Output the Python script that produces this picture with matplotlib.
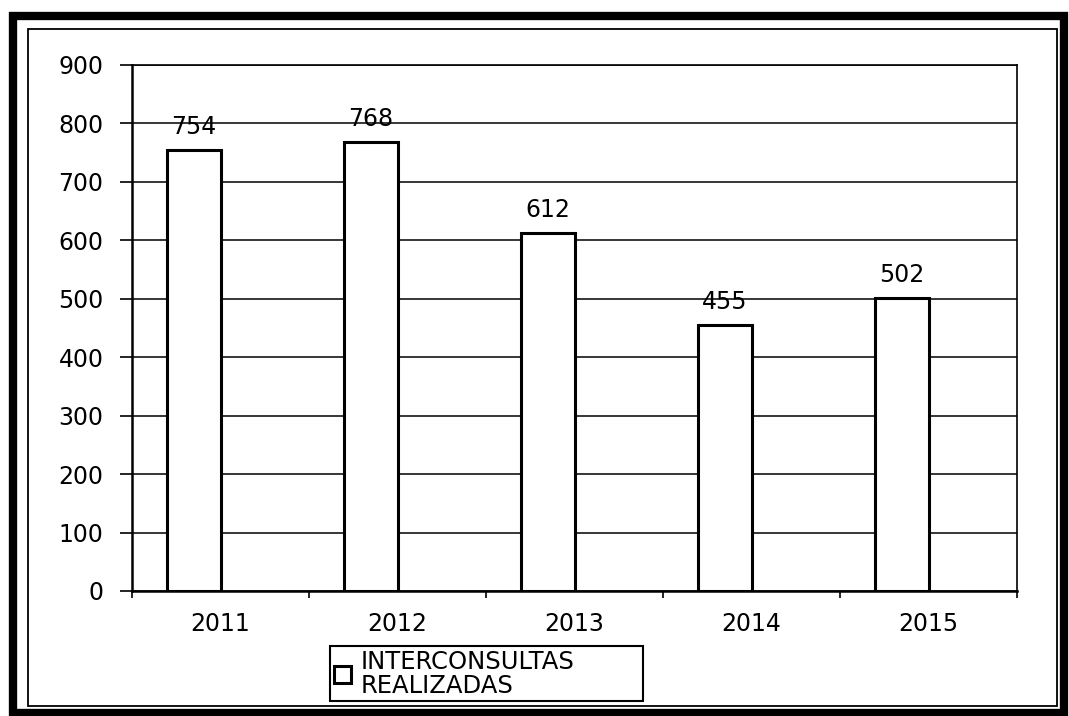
import numpy as np
import matplotlib.pyplot as plt
from matplotlib.patches import Rectangle

# data
years = ['2011', '2012', '2013', '2014', '2015']
interconsultas = [754, 768, 612, 455, 502]
y_ticks = [0, 100, 200, 300, 400, 500, 600, 700, 800, 900]
legend_label = 'INTERCONSULTAS\nREALIZADAS'

W, H = 1069, 716
plt.rcParams['font.family'] = ['DejaVu Sans']

fig = plt.figure(figsize=(W / 100, H / 100), dpi=100)
fig.patch.set_facecolor('white')

# outer thick frame and inner thin frame (figure pixel coords)
def px_rect(x0, y0, x1, y1, lw):
    fig.patches.append(Rectangle((x0 / W, 1 - y1 / H), (x1 - x0) / W, (y1 - y0) / H,
                                 transform=fig.transFigure, fill=False,
                                 edgecolor='black', linewidth=lw))

px_rect(13, 16, 1064, 713, 6)
px_rect(28, 29, 1057, 706, 1.3)

# plot area
ax = fig.add_axes([132 / W, 1 - 591 / H, (1017 - 132) / W, (591 - 65) / H])
x = np.arange(len(years))
bars = ax.bar(x - 0.15, interconsultas, width=0.3, color='white',
              edgecolor='black', linewidth=2.2, zorder=3, label=legend_label)

for xi, v in zip(x, interconsultas):
    ax.annotate(str(v), (xi - 0.15, v), xytext=(0, 11.5), textcoords='offset points',
                ha='center', va='baseline', fontsize=17, zorder=4)

ax.set_xlim(-0.5, len(years) - 0.5)
ax.set_ylim(0, 900)
ax.set_yticks(y_ticks)
ax.tick_params(axis='y', length=8.5, width=1.2, pad=12, labelsize=17)
ax.yaxis.grid(True, color='black', linewidth=1.1, zorder=0)
ax.set_axisbelow(True)

# category labels centered, tick marks at category boundaries
ax.set_xticks(np.arange(-0.5, len(years) + 0.5, 1.0))
ax.set_xticklabels([])
ax.set_xticks(x, minor=True)
ax.set_xticklabels(years, minor=True)
ax.tick_params(axis='x', which='major', length=5, width=1.2, direction='out')
ax.tick_params(axis='x', which='minor', length=0, pad=15, labelsize=17)

for side in ['left', 'bottom']:
    ax.spines[side].set_linewidth(1.8)
for side in ['top', 'right']:
    ax.spines[side].set_linewidth(1.2)

leg = fig.legend(handles=[bars], labels=[legend_label], loc='upper left',
                 bbox_to_anchor=(330 / W, 1 - 699 / H, 313 / W, 53 / H), mode='expand',
                 fontsize=17.5, frameon=True, fancybox=False, edgecolor='black',
                 framealpha=1, handlelength=0.7, handleheight=0.7, handletextpad=0.4,
                 borderpad=0.15, borderaxespad=0)
leg.get_frame().set_linewidth(1.5)
leg.get_texts()[0].set_linespacing(1.0)

fig.savefig('out.png', dpi=100)
